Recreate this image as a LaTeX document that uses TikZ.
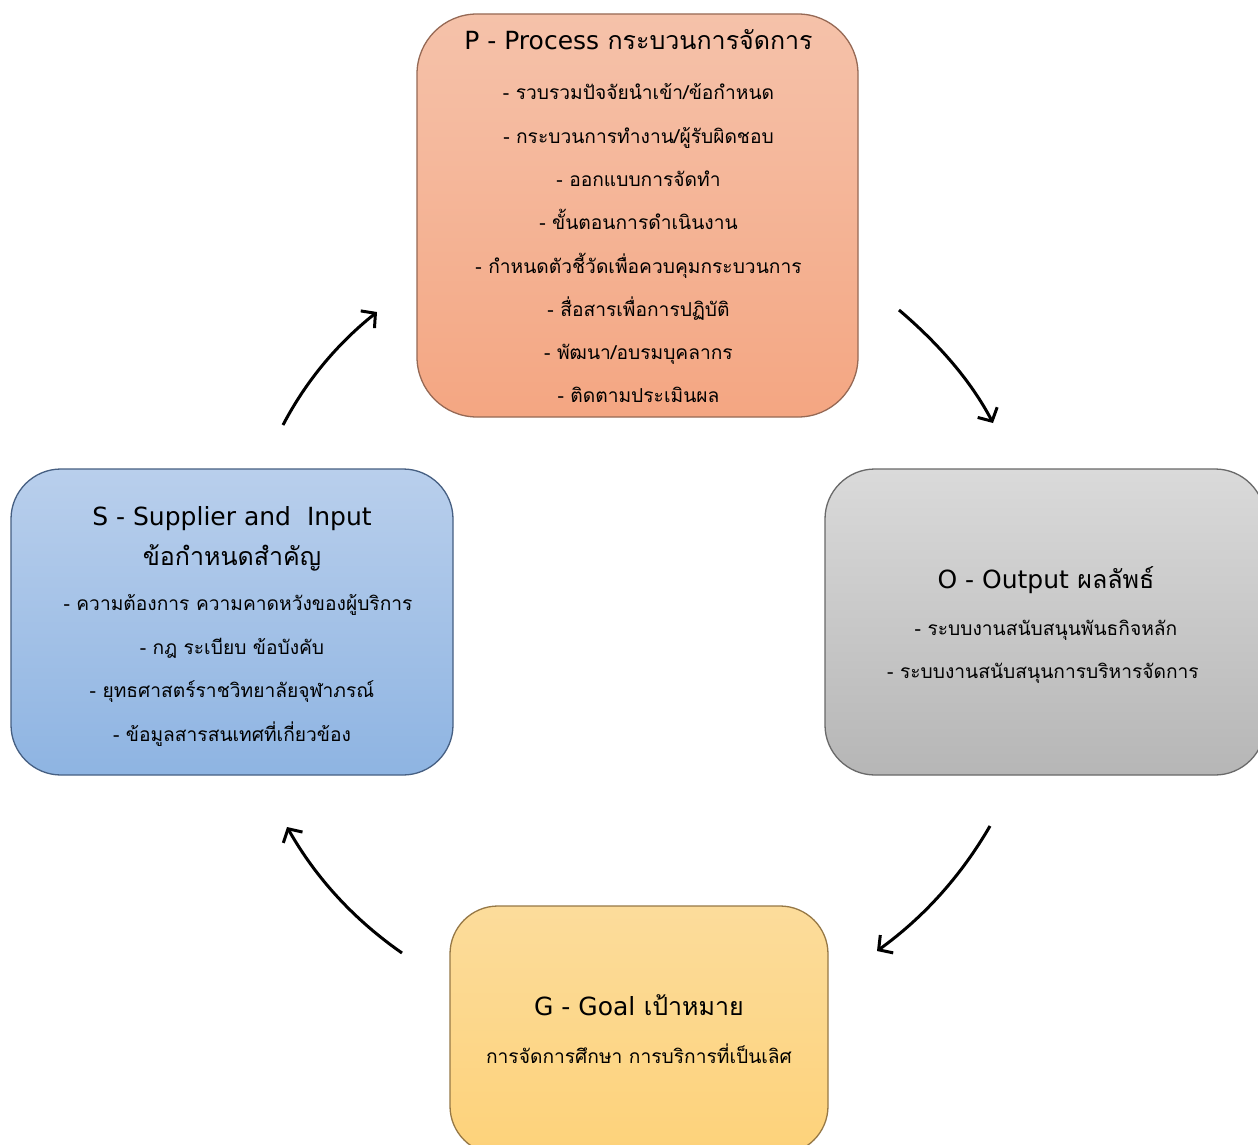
\documentclass[tikz,border=0pt]{standalone}
\usepackage{fontspec}
\setmainfont[Script=Thai]{Loma}
\newfontfamily\latinf{DejaVu Sans}
\usetikzlibrary{arrows.meta}
\definecolor{pTop}{RGB}{245,194,170}
\definecolor{pBot}{RGB}{244,166,130}
\definecolor{pLine}{RGB}{150,105,85}
\definecolor{sTop}{RGB}{185,207,236}
\definecolor{sBot}{RGB}{142,180,226}
\definecolor{sLine}{RGB}{70,95,130}
\definecolor{oTop}{RGB}{218,218,218}
\definecolor{oBot}{RGB}{182,182,182}
\definecolor{oLine}{RGB}{105,105,105}
\definecolor{gTop}{RGB}{252,220,155}
\definecolor{gBot}{RGB}{253,210,122}
\definecolor{gLine}{RGB}{150,120,70}
\begin{document}
\begin{tikzpicture}[x=1pt,y=-1pt,
  boxstyle/.style={draw, line width=1.3pt, inner sep=0pt, rounded corners=#1},
  ttl/.style={anchor=base, inner sep=0pt, font=\fontsize{25}{30}\selectfont},
  bod/.style={anchor=base, inner sep=0pt, font=\fontsize{19.2}{24}\selectfont},
  cyc/.style={line width=3pt, -{Straight Barb[length=10pt,width=22pt,line width=3pt]}}]
\clip (0,0) rectangle (1258,1145);
\useasboundingbox (0,0) rectangle (1258,1145);
\fill[white] (0,0) rectangle (1258,1145);
% boxes
\node[boxstyle=60pt, draw=pLine, top color=pTop, bottom color=pBot, minimum width=441pt, minimum height=403pt] (pBox) at (637.5,215.5) {};
\node[boxstyle=50pt, draw=sLine, top color=sTop, bottom color=sBot, minimum width=442pt, minimum height=306pt] (sBox) at (232,622) {};
\node[boxstyle=50pt, draw=oLine, top color=oTop, bottom color=oBot, minimum width=440pt, minimum height=306pt] (oBox) at (1045,622) {};
\node[boxstyle=48pt, draw=gLine, top color=gTop, bottom color=gBot, minimum width=378pt, minimum height=248pt] (gBox) at (639,1030) {};
% P text
\node[ttl] (pT) at (638.5,50) {{\latinf P - Process} กระบวนการจัดการ};
\node[bod] (p1) at (638.5,100) {- รวบรวมปัจจัยนำเข้า/ข้อกำหนด};
\node[bod] (p2) at (638.5,143) {- กระบวนการทำงาน/ผู้รับผิดชอบ};
\node[bod] (p3) at (638.5,186) {- ออกแบบการจัดทำ};
\node[bod] (p4) at (638.5,229) {- ขั้นตอนการดำเนินงาน};
\node[bod] (p5) at (638.5,273) {- กำหนดตัวชี้วัดเพื่อควบคุมกระบวนการ};
\node[bod] (p6) at (638.5,316) {- สื่อสารเพื่อการปฏิบัติ};
\node[bod] (p7) at (638.5,359) {- พัฒนา/อบรมบุคลากร};
\node[bod] (p8) at (638.5,402) {- ติดตามประเมินผล};
% S text
\node[ttl] (sT) at (232,525) {\latinf S - Supplier and\ \ Input};
\node[ttl] (sT2) at (232,565) {ข้อกำหนดสำคัญ};
\node[bod] (s1) at (238,610) {- ความต้องการ ความคาดหวังของผู้บริการ};
\node[bod] (s2) at (232,654) {- กฎ ระเบียบ ข้อบังคับ};
\node[bod] (s3) at (232,697) {- ยุทธศาสตร์ราชวิทยาลัยจุฬาภรณ์};
\node[bod] (s4) at (232,741) {- ข้อมูลสารสนเทศที่เกี่ยวข้อง};
% O text
\node[ttl] (oT) at (1046,588) {{\latinf O - Output} ผลลัพธ์};
\node[bod] (o1) at (1046,635) {- ระบบงานสนับสนุนพันธกิจหลัก};
\node[bod] (o2) at (1043,678) {- ระบบงานสนับสนุนการบริหารจัดการ};
% G text
\node[ttl] (gT) at (639,1015) {{\latinf G - Goal} เป้าหมาย};
\node[bod] (g1) at (639,1063) {การจัดการศึกษา การบริการที่เป็นเลิศ};
% arrows
\coordinate (spA) at (283,425); \coordinate (spB) at (377,312);
\coordinate (poA) at (899,310); \coordinate (poB) at (993,423);
\coordinate (ogA) at (990,826); \coordinate (ogB) at (877,951);
\coordinate (gsA) at (402,953); \coordinate (gsB) at (287,827);
\draw[cyc] (spA) .. controls (306,381) and (337,344) .. (spB);
\draw[cyc] (poA) .. controls (939,344) and (971,381) .. (poB);
\draw[cyc] (ogA) .. controls (961,876) and (924,917) .. (ogB);
\draw[cyc] (gsA) .. controls (356,921) and (317,880) .. (gsB);
\end{tikzpicture}
\end{document}
